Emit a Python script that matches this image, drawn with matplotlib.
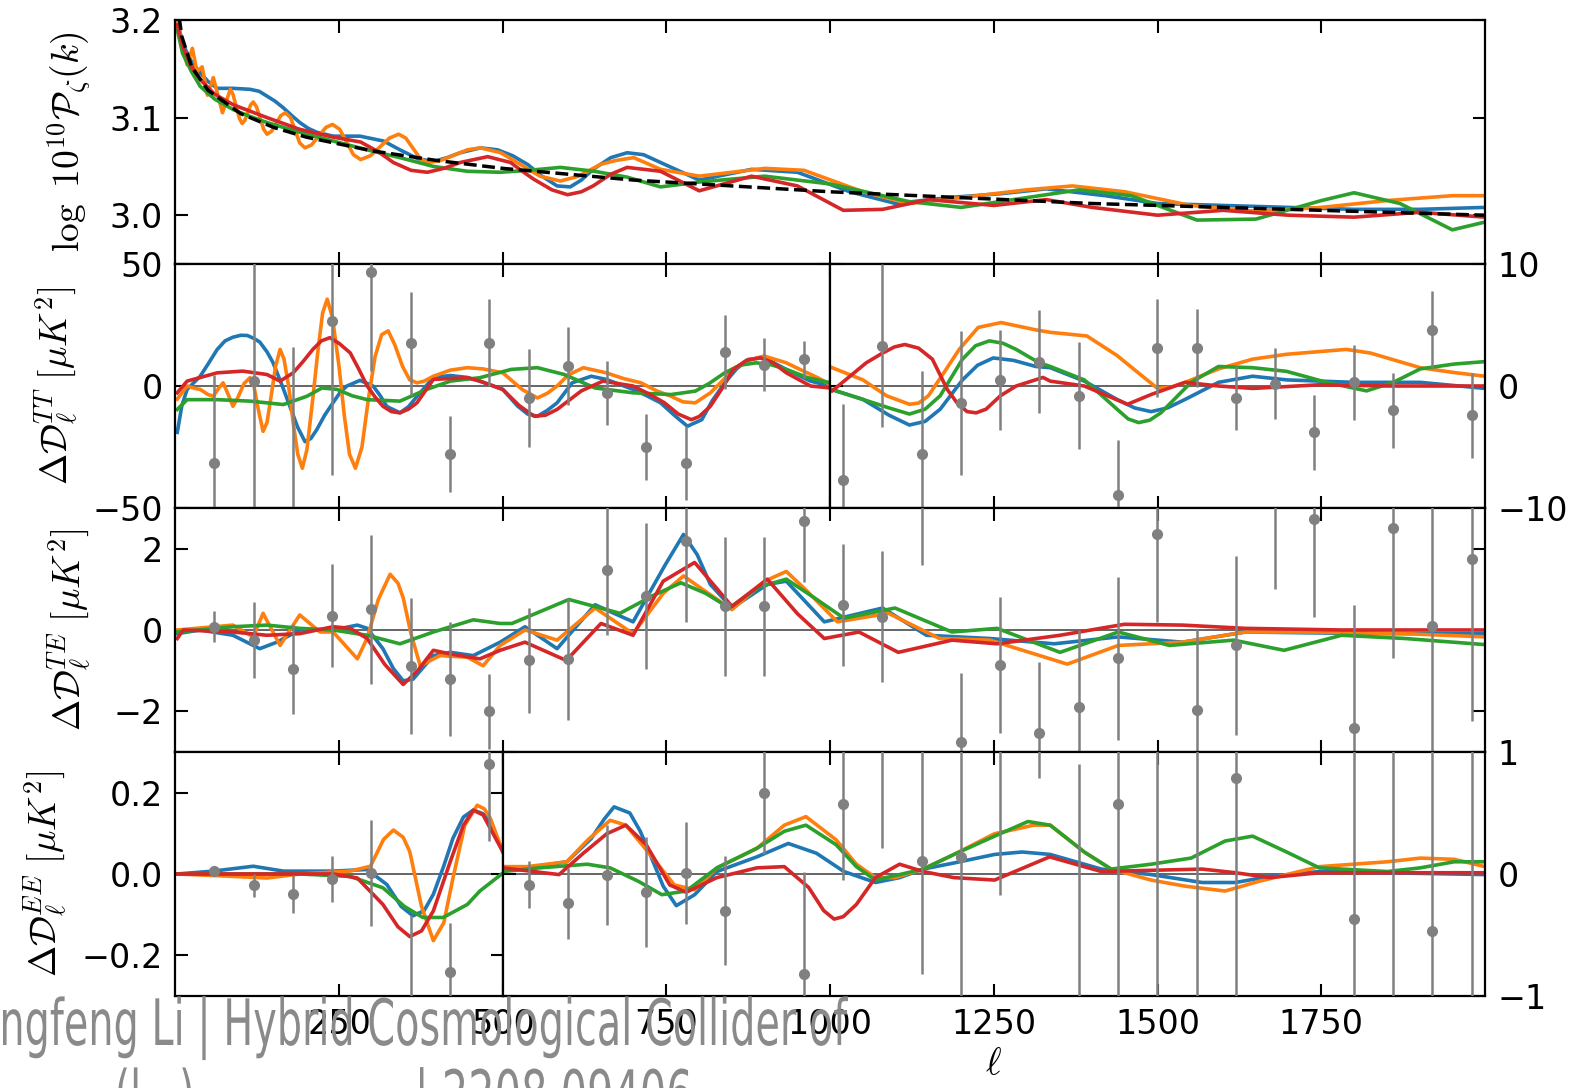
import numpy as np
import matplotlib
matplotlib.use('Agg')
import matplotlib.pyplot as plt
from matplotlib.textpath import TextPath
from matplotlib.patches import PathPatch
from matplotlib.font_manager import FontProperties
from matplotlib.transforms import Affine2D, IdentityTransform

plt.rcParams['mathtext.fontset'] = 'cm'
plt.rcParams['font.size'] = 24
plt.rcParams['axes.linewidth'] = 1.6

# binned multipoles of the residual data
ell_bins = [59.5, 119.5, 179.5, 239.5, 299.5, 359.5, 419.5, 479.5, 539.5, 599.5,
            659.5, 719.5, 779.5, 839.5, 899.5, 959.5, 1019.5, 1079.5, 1139.5, 1199.5,
            1259.5, 1319.5, 1379.5, 1439.5, 1499.5, 1559.5, 1619.5, 1679.5, 1739.5,
            1799.5, 1859.5, 1919.5, 1979.5]
tt_data = [-31.6, 2, -58, 26.7, 46.8, 17.5, -27.8, 17.8, -4.9, 8.2, -2.8, -25, -31.6,
           13.9, 8.8, 10.9, -7.7, 3.3, -5.6, -1.4, 0.5, 2.0, -0.8, -8.9, 3.1, 3.1, -1.0,
           0.2, -3.8, 0.3, -2.0, 4.6, -2.4]
tt_err = [36, 60, 74, 63, 40.7, 21, 15.5, 18, 20, 16, 13, 13.4, 15, 15, 11, 7.5, 6.2,
          6.7, 6.8, 5.9, 4.1, 4.2, 4.4, 4.5, 4.0, 3.2, 2.6, 2.9, 3.1, 3.1, 3.1, 3.2, 3.5]
te_data = [0.08, -0.24, -0.96, 0.35, 0.51, -0.88, -1.21, -2.0, -0.75, -0.71, 1.47, 0.83,
           2.2, 0.58, 0.58, 2.69, 0.62, 0.33, 3.6, -2.75, -0.86, -2.54, -1.9, -0.7, 2.35,
           -1.98, -0.38, 3.3, 2.72, -2.42, 2.52, 0.1, 1.75]
te_err = [0.38, 0.94, 1.1, 1.27, 1.83, 1.67, 1.4, 0.92, 1.3, 1.5, 1.6, 1.8, 2.0, 1.7, 1.7,
          1.5, 1.5, 1.6, 2.0, 1.7, 1.67, 1.75, 1.9, 2.0, 2.15, 2.0, 2.2, 2.3, 2.4, 3.04,
          3.2, 4.0, 4.0]
ee_data = [0.008, -0.028, -0.049, -0.012, 0.002, -0.34, -0.24, 0.271, -0.087, -0.24,
           -0.005, -0.15, 0.008, -0.30, 0.66, -0.82, 0.57, 1.3, 0.11, 0.14, 1.3, 1.7, -1.4,
           0.57, 1.5, -1.6, 0.79, 3.0, -3.5, -0.37, -2.0, -0.47, 2.5]
ee_err = [0.01, 0.028, 0.047, 0.057, 0.13, 0.24, 0.12, 0.19, 0.19, 0.29, 0.41, 0.45, 0.42,
          0.45, 0.5, 0.84, 0.62, 1.09, 0.93, 1.2, 1.47, 0.91, 2.3, 1.7, 2.8, 2.9, 1.8, 1.5,
          2.0, 1.6, 3.5, 1.8, 4.0]

# primordial spectrum: fiducial power law and four feature templates
pk_ell_dash = [2, 5, 10, 25, 50, 100, 150, 200, 300, 400, 500, 700, 1000, 1400, 2000]
pk_dash = [3.239, 3.207, 3.183, 3.152, 3.128, 3.104, 3.090, 3.080, 3.066, 3.056, 3.048,
           3.036, 3.024, 3.012, 3.000]
pk_ell_blue = [3, 11, 24, 38, 50, 64, 88, 114, 128, 140, 152, 165, 178, 190, 203, 216,
               241, 282, 318, 343, 370, 394, 415, 435, 466, 492, 515, 538, 560, 583, 603,
               620, 638, 665, 690, 715, 741, 800, 880, 950, 1030, 1100, 1180, 1260, 1330,
               1420, 1500, 1600, 1700, 1800, 1900, 2000]
pk_blue = [3.200, 3.176, 3.158, 3.146, 3.137, 3.130, 3.130, 3.129, 3.127, 3.122, 3.117,
           3.110, 3.102, 3.095, 3.089, 3.085, 3.081, 3.081, 3.076, 3.067, 3.058, 3.055,
           3.059, 3.064, 3.069, 3.067, 3.061, 3.052, 3.040, 3.030, 3.029, 3.036, 3.047,
           3.059, 3.064, 3.062, 3.054, 3.036, 3.047, 3.044, 3.024, 3.012, 3.018, 3.022,
           3.027, 3.020, 3.012, 3.010, 3.008, 3.006, 3.006, 3.008]
pk_ell_orange = [3, 18, 26, 33, 41, 49, 58, 72, 84, 88, 98, 102, 106, 115, 119, 124, 135,
                 140, 147, 161, 168, 176, 190, 198, 208, 230, 240, 251, 272, 283, 298, 327,
                 341, 352, 374, 385, 405, 446, 466, 497, 527, 557, 588, 616, 649, 672, 700,
                 741, 800, 900, 960, 1050, 1120, 1200, 1300, 1370, 1450, 1550, 1650, 1750,
                 1850, 1950, 2000]
pk_orange = [3.200, 3.154, 3.171, 3.147, 3.152, 3.123, 3.141, 3.105, 3.129, 3.124, 3.099,
             3.094, 3.097, 3.113, 3.116, 3.111, 3.088, 3.083, 3.086, 3.102, 3.105, 3.100,
             3.074, 3.069, 3.072, 3.090, 3.093, 3.088, 3.062, 3.057, 3.061, 3.079, 3.083,
             3.079, 3.058, 3.054, 3.056, 3.067, 3.069, 3.064, 3.052, 3.040, 3.035, 3.040,
             3.052, 3.056, 3.059, 3.047, 3.040, 3.048, 3.046, 3.024, 3.012, 3.018, 3.026,
             3.030, 3.024, 3.010, 3.004, 3.008, 3.015, 3.020, 3.020]
pk_ell_green = [3, 11, 24, 38, 60, 89, 115, 140, 190, 241, 293, 343, 394, 446, 496, 540,
                588, 640, 690, 741, 800, 900, 1000, 1120, 1200, 1300, 1380, 1460, 1560,
                1650, 1750, 1800, 1870, 1950, 2000]
pk_green = [3.190, 3.166, 3.148, 3.132, 3.119, 3.108, 3.101, 3.095, 3.085, 3.076, 3.067,
            3.059, 3.050, 3.045, 3.044, 3.046, 3.049, 3.045, 3.039, 3.029, 3.034, 3.040,
            3.032, 3.014, 3.008, 3.018, 3.026, 3.020, 2.995, 2.996, 3.015, 3.023, 3.012,
            2.985, 2.993]
pk_ell_red = [3, 11, 24, 38, 60, 89, 140, 190, 241, 283, 310, 333, 360, 385, 410, 435,
              477, 512, 530, 547, 575, 599, 620, 638, 665, 690, 741, 800, 880, 950, 1020,
              1080, 1150, 1250, 1330, 1400, 1500, 1600, 1700, 1800, 1900, 2000]
pk_red = [3.195, 3.174, 3.153, 3.139, 3.124, 3.113, 3.100, 3.088, 3.080, 3.075, 3.065,
          3.054, 3.046, 3.044, 3.048, 3.054, 3.060, 3.054, 3.045, 3.037, 3.026, 3.021,
          3.024, 3.030, 3.042, 3.049, 3.045, 3.025, 3.040, 3.030, 3.005, 3.006, 3.016,
          3.010, 3.016, 3.008, 3.000, 3.005, 3.000, 2.998, 3.003, 2.998]

# TT residuals, low-ell part
tt_ell_blue = [3, 10, 18, 38, 50, 64, 76, 88, 100, 110, 120, 129, 140, 149, 162, 175, 187,
               198, 207, 216, 228, 241, 252, 262, 282, 302, 313, 323, 343, 356, 369, 394,
               420, 446, 465, 500, 523, 538, 553, 568, 583, 606, 635, 658, 699, 720, 741,
               762, 782, 804, 820, 839, 857, 875, 899, 933, 970, 1000]
tt_blue = [-19, -8, -1.4, 4, 9, 15, 18.5, 20, 20.8, 20.7, 19.5, 18, 14, 9.7, 1, -8.4,
           -17, -22.8, -21.5, -17.9, -12, -6.8, -2.5, 0, 2.3, 0, -4, -8.4, -11, -8.5, -4.3,
           3.5, 4.3, 3.5, 2, -1.4, -8.3, -11.5, -12.4, -10, -6.9, 1.3, 4, 2.7, -1.4, -4,
           -6.9, -12, -16.5, -13.8, -6, 1.3, 7, 10.9, 11.6, 6.8, 2, 0]
tt_ell_orange = [3, 18, 30, 38, 50, 58, 66, 73, 80, 88, 95, 105, 114, 120, 127, 134, 140,
                 147, 153, 160, 166, 173, 180, 187, 194, 201, 210, 218, 225, 232, 240, 250,
                 258, 266, 275, 285, 295, 305, 315, 325, 335, 347, 358, 369, 380, 394, 420,
                 446, 470, 500, 530, 553, 568, 583, 600, 623, 658, 685, 711, 735, 757, 775,
                 794, 817, 835, 852, 875, 899, 933, 960, 981, 1000]
tt_orange = [-5.4, 0, -1, -1.4, -3.5, -4.2, -1, 1.3, -3, -8.3, -5, 1, 3.4, 0, -10, -18.6,
             -15, -3, 8, 15, 11, 0, -15, -28, -33.7, -26, -5, 15, 30, 35.6, 28, 8, -12, -28,
             -33.7, -25, -5, 12, 21, 22.6, 17, 8, 2.5, 1.3, 2, 4, 6.5, 7.5, 7, 5.4, -1.5,
             -4.9, -3, 0, 4.5, 7.5, 5.4, 3, 1.3, -2, -4.2, -6.5, -6.9, -2.8, 2, 6.8, 10.5,
             12.3, 9.5, 6, 3.4, 0.6]
tt_ell_green = [3, 18, 64, 114, 165, 201, 224, 247, 270, 293, 343, 384, 420, 465, 513,
                553, 594, 641, 699, 757, 794, 815, 839, 862, 887, 910, 933, 965, 1000]
tt_green = [-9.6, -5.6, -5.6, -6.2, -7.6, -4.2, -0.8, -1.4, -4, -5.6, -6.2, -1.4, 2, 3.4,
            6.8, 7.5, 4.7, -0.8, -2.8, -3.5, -2.1, 1, 5.4, 8.5, 9.5, 8.7, 6.8, 3.5, 1.3]
tt_ell_red = [3, 18, 64, 103, 140, 160, 180, 195, 210, 223, 236, 250, 267, 280, 293, 305,
              317, 330, 343, 356, 369, 394, 446, 465, 500, 525, 548, 565, 583, 620, 653,
              699, 725, 747, 768, 788, 800, 817, 835, 852, 872, 893, 913, 933, 970, 1000]
tt_red = [-2.8, 2, 5.4, 6.1, 4.7, 2, 5.4, 10, 15, 18.5, 19.8, 17.5, 13.6, 7, 0, -4.5,
          -8.3, -10.5, -11, -9.5, -6.9, 2.7, 3.4, 2, -1.4, -8, -12.4, -12, -9.6, -2, 2, 0,
          -3.5, -6.9, -11.5, -13.8, -12.5, -8.3, -1, 6.8, 10.5, 11.6, 9.5, 5.4, 0, -0.8]

# TT residuals, high-ell part
tth_ell_blue = [1003, 1050, 1090, 1121, 1145, 1168, 1202, 1225, 1249, 1280, 1314, 1336,
                1388, 1438, 1465, 1490, 1515, 1542, 1593, 1645, 1697, 1799, 1901, 2000]
tth_blue = [-0.3, -1.1, -2.4, -3.2, -2.9, -1.9, 0.5, 1.7, 2.3, 2.1, 1.6, 1.5, 0.4, -1.1,
            -1.8, -2.1, -1.8, -1.1, 0.3, 0.8, 0.5, 0.3, 0.3, -0.2]
tth_ell_orange = [1003, 1050, 1086, 1121, 1135, 1150, 1175, 1197, 1226, 1261, 1314, 1336,
                  1392, 1438, 1470, 1500, 1520, 1542, 1593, 1645, 1697, 1788, 1825, 1901,
                  1953, 2000]
tth_orange = [1.5, 0.5, -0.8, -1.5, -1.4, -0.8, 1.2, 3, 4.8, 5.2, 4.6, 4.4, 4.1, 2.5, 1.1,
              -0.2, -0.1, 0.3, 1.4, 2.2, 2.6, 3.0, 2.7, 1.5, 1.1, 0.8]
tth_ell_green = [1003, 1050, 1090, 1121, 1145, 1168, 1202, 1222, 1243, 1264, 1284, 1319,
                 1336, 1388, 1438, 1455, 1471, 1488, 1505, 1551, 1593, 1645, 1697, 1758,
                 1819, 1860, 1901, 1953, 2000]
tth_green = [-0.3, -1.1, -1.8, -2.3, -1.9, -0.8, 2.2, 3.3, 3.7, 3.5, 3.0, 1.9, 1.6, 0.5,
             -1.9, -2.7, -3.0, -2.8, -2.2, 0.3, 1.6, 1.5, 1.2, 0.3, -0.4, 0.3, 1.4, 1.8,
             2.0]
tth_ell_red = [1003, 1028, 1055, 1080, 1098, 1114, 1135, 1156, 1179, 1194, 1209, 1223,
               1238, 1260, 1284, 1325, 1336, 1388, 1454, 1490, 1542, 1593, 1645, 1747,
               1851, 2000]
tth_red = [-0.4, 0.7, 1.9, 2.7, 3.2, 3.4, 3.1, 2.2, -0.3, -1.4, -2.1, -2.2, -1.9, -0.8, 0,
           0.7, 0.4, 0, -1.5, -0.7, 0.3, 0, -0.2, 0.1, 0, 0]

# TE residuals
te_ell_blue = [3, 38, 88, 129, 155, 190, 241, 278, 293, 317, 333, 348, 363, 394, 420, 455,
               496, 534, 583, 641, 699, 748, 776, 797, 817, 850, 904, 933, 991, 1080, 1147,
               1244, 1342, 1440, 1538, 1634, 1829, 2000]
te_blue = [-0.09, 0, -0.13, -0.46, -0.3, 0, 0, 0.12, 0.04, -0.46, -0.95, -1.25, -1.21,
           -0.63, -0.55, -0.63, -0.3, 0.08, -0.46, 0.62, 0.2, 1.6, 2.35, 1.85, 1.12, 0.54,
           1.12, 1.2, 0.2, 0.54, -0.13, -0.21, -0.34, -0.17, -0.3, -0.05, -0.09, -0.09]
te_ell_orange = [3, 88, 119, 134, 160, 190, 221, 241, 278, 293, 310, 328, 340, 348, 360,
                 374, 404, 446, 470, 496, 534, 583, 641, 699, 745, 776, 805, 850, 900, 933,
                 965, 1011, 1089, 1167, 1244, 1362, 1440, 1538, 1634, 1732, 1878, 2000]
te_orange = [0, 0.12, -0.17, 0.41, -0.38, 0.37, -0.05, -0.05, -0.71, -0.2, 0.75, 1.37,
             1.15, 0.79, -0.1, -0.88, -0.63, -0.67, -0.88, -0.38, 0, -0.25, 0.54, -0.09,
             0.9, 1.33, 1.0, 0.5, 1.2, 1.44, 0.95, 0.2, 0.41, -0.21, -0.25, -0.84, -0.38,
             -0.3, -0.05, -0.05, -0.09, -0.17]
te_ell_green = [3, 88, 140, 190, 241, 293, 343, 394, 455, 496, 514, 601, 679, 730, 772,
                810, 846, 890, 933, 975, 1021, 1099, 1186, 1255, 1351, 1440, 1518, 1616,
                1693, 1781, 1878, 2000]
te_green = [-0.05, 0.08, 0.12, 0.04, 0, -0.13, -0.34, -0.05, 0.25, 0.16, 0.16, 0.75, 0.41,
            0.85, 1.16, 0.9, 0.54, 1.05, 1.25, 0.8, 0.29, 0.54, -0.05, 0.04, -0.55, -0.05,
            -0.38, -0.25, -0.5, -0.13, -0.21, -0.36]
te_ell_red = [3, 12, 88, 140, 190, 241, 267, 293, 320, 348, 370, 394, 420, 465, 496, 534,
              597, 650, 699, 745, 793, 820, 850, 904, 950, 991, 1044, 1104, 1186, 1255,
              1351, 1449, 1538, 1634, 1781, 2000]
te_red = [-0.21, 0, -0.05, -0.13, -0.09, 0.08, 0.04, -0.21, -0.85, -1.34, -1.0, -0.5,
          -0.59, -0.71, -0.5, -0.3, -0.75, 0.16, -0.13, 1.2, 1.66, 1.15, 0.58, 1.25, 0.4,
          -0.21, -0.05, -0.55, -0.25, -0.34, -0.13, 0.14, 0.12, 0.04, 0, 0]

# EE residuals, low-ell part
ee_ell_blue = [3, 58, 119, 165, 241, 293, 323, 345, 363, 380, 394, 410, 424, 440, 455,
               470, 481, 500]
ee_blue = [0, 0.007, 0.019, 0.007, 0.007, 0.011, -0.026, -0.08, -0.103, -0.09, -0.05,
           0.02, 0.088, 0.14, 0.157, 0.148, 0.128, 0.055]
ee_ell_orange = [3, 88, 140, 190, 267, 298, 318, 333, 348, 358, 376, 394, 410, 424, 442,
                 461, 472, 481, 500]
ee_orange = [0, -0.006, -0.01, 0, 0.007, 0.019, 0.085, 0.108, 0.09, 0.055, -0.08, -0.164,
             -0.12, -0.01, 0.12, 0.169, 0.16, 0.137, 0.055]
ee_ell_green = [3, 190, 267, 317, 350, 378, 409, 446, 465, 500]
ee_green = [0, 0, -0.006, -0.034, -0.08, -0.107, -0.107, -0.075, -0.042, 0.002]
ee_ell_red = [3, 241, 278, 317, 340, 358, 376, 394, 420, 440, 455, 470, 481, 500]
ee_red = [0, 0, -0.01, -0.075, -0.13, -0.154, -0.14, -0.091, 0.031, 0.12, 0.157, 0.145,
          0.112, 0.055]

# EE residuals, high-ell part
eeh_ell_blue = [500, 537, 598, 635, 655, 670, 694, 710, 725, 745, 765, 793, 827, 888, 936,
                979, 1021, 1069, 1106, 1142, 1189, 1251, 1293, 1336, 1414, 1490, 1568,
                1619, 1671, 1747, 2000]
eeh_blue = [0.06, 0.05, 0.1, 0.29, 0.45, 0.55, 0.5, 0.35, 0.16, -0.1, -0.26, -0.17, 0.02,
            0.14, 0.25, 0.17, 0.02, -0.07, -0.03, 0.04, 0.09, 0.16, 0.18, 0.16, 0.04,
            -0.005, -0.07, -0.07, -0.02, 0.02, -0.005]
eeh_ell_orange = [500, 537, 598, 630, 664, 688, 725, 762, 793, 827, 888, 930, 963, 1009,
                  1040, 1069, 1099, 1142, 1189, 1251, 1311, 1336, 1388, 1429, 1490, 1542,
                  1603, 1655, 1747, 1851, 1901, 1953, 2000]
eeh_orange = [0.06, 0.06, 0.1, 0.28, 0.44, 0.4, 0.16, -0.09, -0.13, 0.05, 0.21, 0.4, 0.47,
              0.28, 0.08, -0.03, -0.03, 0.04, 0.16, 0.33, 0.4, 0.4, 0.18, 0.04, -0.05, -0.1,
              -0.14, -0.06, 0.06, 0.1, 0.13, 0.12, 0.06]
eeh_ell_green = [500, 556, 629, 664, 707, 743, 780, 827, 888, 930, 963, 1009, 1040, 1069,
                 1106, 1142, 1189, 1251, 1302, 1336, 1388, 1429, 1490, 1551, 1603, 1645,
                 1697, 1747, 1851, 1901, 1953, 2000]
eeh_green = [0.02, 0.05, 0.08, 0.05, -0.06, -0.17, -0.14, 0.05, 0.21, 0.35, 0.4, 0.24,
             0.06, -0.05, -0.005, 0.04, 0.16, 0.31, 0.43, 0.4, 0.18, 0.04, 0.08, 0.13, 0.27,
             0.31, 0.18, 0.05, 0.02, 0.05, 0.1, 0.1]
eeh_ell_red = [500, 586, 623, 659, 688, 719, 755, 780, 827, 888, 930, 967, 990, 1006,
               1020, 1040, 1069, 1106, 1142, 1189, 1251, 1335, 1414, 1568, 1619, 1671,
               1747, 2000]
eeh_red = [0.05, -0.005, 0.17, 0.33, 0.4, 0.24, -0.09, -0.15, -0.03, 0.05, 0.06, -0.11,
           -0.3, -0.37, -0.35, -0.25, -0.03, 0.08, 0.02, -0.03, -0.05, 0.14, 0.02, 0.04,
           0.01, -0.03, 0.01, 0.01]

colors = ['C0', 'C1', 'C2', 'C3']
LW = 2.6
LABEL_SIZE = 27
ell_ticks = [250, 500, 750, 1000, 1250, 1500, 1750]

fig = plt.figure(figsize=(15.78, 10.88), dpi=100)
gs = fig.add_gridspec(4, 1, left=0.1111, right=0.9411, top=0.9816, bottom=0.0846,
                      hspace=0)
ax_pk = fig.add_subplot(gs[0])
gs_tt = gs[1].subgridspec(1, 2, width_ratios=[1, 1], wspace=0)
ax_tt_lo = fig.add_subplot(gs_tt[0])
ax_tt_hi = fig.add_subplot(gs_tt[1])
ax_te = fig.add_subplot(gs[2])
gs_ee = gs[3].subgridspec(1, 2, width_ratios=[1, 3], wspace=0)
ax_ee_lo = fig.add_subplot(gs_ee[0])
ax_ee_hi = fig.add_subplot(gs_ee[1])


def style(ax, xlim, labelbottom=False, labelright=False):
    ax.set_xlim(*xlim)
    ax.set_xticks([t for t in ell_ticks if xlim[0] < t <= xlim[1]])
    ax.tick_params(which='both', direction='in', top=True, right=True, left=True,
                   length=9, width=1.5, pad=9, labelsize=24,
                   labelbottom=labelbottom, labelleft=not labelright,
                   labelright=labelright)


def residuals(ax, curves, lo, hi):
    for (ell, val), c in zip(curves, colors):
        ax.plot(ell, val, color=c, lw=LW, zorder=2, solid_joinstyle='round')
    ax.axhline(0, color='0.35', lw=1.3, zorder=1)
    ell = np.array(ell_bins)
    return (ell > lo) & (ell < hi)


def points(ax, mask, data, err):
    ax.errorbar(np.array(ell_bins)[mask], np.array(data)[mask],
                yerr=np.array(err)[mask], fmt='o', color='gray', ms=7,
                elinewidth=1.8, capsize=0, zorder=3)


# primordial power spectrum
ax_pk.plot(pk_ell_blue, pk_blue, color=colors[0], lw=LW, solid_joinstyle='round')
ax_pk.plot(pk_ell_orange, pk_orange, color=colors[1], lw=LW, solid_joinstyle='round')
ax_pk.plot(pk_ell_green, pk_green, color=colors[2], lw=LW, solid_joinstyle='round')
ax_pk.plot(pk_ell_red, pk_red, color=colors[3], lw=LW, solid_joinstyle='round')
ax_pk.plot(pk_ell_dash, pk_dash, color='k', lw=2.5, ls='--')
ax_pk.set_ylim(2.95, 3.2)
ax_pk.set_yticks([3.0, 3.1, 3.2])
style(ax_pk, (0, 2000))
ax_pk.set_ylabel(r'$\log\ 10^{10}\mathcal{P}_\zeta(k)$', fontsize=LABEL_SIZE,
                 labelpad=12)

# TT
m = residuals(ax_tt_lo, [(tt_ell_blue, tt_blue), (tt_ell_orange, tt_orange),
                         (tt_ell_green, tt_green), (tt_ell_red, tt_red)], 0, 1000)
points(ax_tt_lo, m, tt_data, tt_err)
ax_tt_lo.set_ylim(-50, 50)
ax_tt_lo.set_yticks([-50, 0, 50])
style(ax_tt_lo, (0, 1000))
ax_tt_lo.set_ylabel(r'$\Delta\mathcal{D}_\ell^{TT}\ [\mu K^2]$', fontsize=LABEL_SIZE,
                    labelpad=8)

m = residuals(ax_tt_hi, [(tth_ell_blue, tth_blue), (tth_ell_orange, tth_orange),
                         (tth_ell_green, tth_green), (tth_ell_red, tth_red)], 1000, 2000)
points(ax_tt_hi, m, tt_data, tt_err)
ax_tt_hi.set_ylim(-10, 10)
ax_tt_hi.set_yticks([-10, 0, 10])
style(ax_tt_hi, (1000, 2000), labelright=True)

# TE
m = residuals(ax_te, [(te_ell_blue, te_blue), (te_ell_orange, te_orange),
                      (te_ell_green, te_green), (te_ell_red, te_red)], 0, 2000)
points(ax_te, m, te_data, te_err)
ax_te.set_ylim(-3, 3)
ax_te.set_yticks([-2, 0, 2])
style(ax_te, (0, 2000))
ax_te.set_ylabel(r'$\Delta\mathcal{D}_\ell^{TE}\ [\mu K^2]$', fontsize=LABEL_SIZE,
                 labelpad=14)

# EE
m = residuals(ax_ee_lo, [(ee_ell_blue, ee_blue), (ee_ell_orange, ee_orange),
                         (ee_ell_green, ee_green), (ee_ell_red, ee_red)], 0, 500)
points(ax_ee_lo, m, ee_data, ee_err)
ax_ee_lo.set_ylim(-0.3, 0.3)
ax_ee_lo.set_yticks([-0.2, 0.0, 0.2])
style(ax_ee_lo, (0, 500), labelbottom=True)
ax_ee_lo.set_ylabel(r'$\Delta\mathcal{D}_\ell^{EE}\ [\mu K^2]$', fontsize=LABEL_SIZE,
                    labelpad=8)

m = residuals(ax_ee_hi, [(eeh_ell_blue, eeh_blue), (eeh_ell_orange, eeh_orange),
                         (eeh_ell_green, eeh_green), (eeh_ell_red, eeh_red)], 500, 2000)
points(ax_ee_hi, m, ee_data, ee_err)
ax_ee_hi.set_ylim(-1, 1)
ax_ee_hi.set_yticks([-1, 0, 1])
style(ax_ee_hi, (500, 2000), labelbottom=True, labelright=True)
ax_ee_hi.set_xlabel(r'$\ell$', fontsize=LABEL_SIZE, labelpad=3)

# banner text along the bottom edge, drawn in a narrow letterform
banner_font = FontProperties(family='DejaVu Sans')


def banner(s, x0, baseline, size, sx=None, width=None):
    path = TextPath((0, 0), s, size=size, prop=banner_font)
    ext = path.get_extents()
    if sx is None:
        sx = width / ext.width
    tr = Affine2D().translate(-ext.x0, 0).scale(sx, 1).translate(x0, baseline)
    fig.add_artist(PathPatch(tr.transform_path(path), facecolor='#8a8a8a',
                             edgecolor='none', transform=IdentityTransform(),
                             zorder=10))
    return sx


sx = banner('ngfeng Li | Hybrid Cosmological Collider of', 3, 43, 64, width=845)
banner('(l   )', 118, -28, 64, sx=sx)
banner('.', 337, -28, 64, sx=sx)
banner('| 2208.09406', 420, -28, 64, width=270)

fig.savefig('out.png', dpi=100)
